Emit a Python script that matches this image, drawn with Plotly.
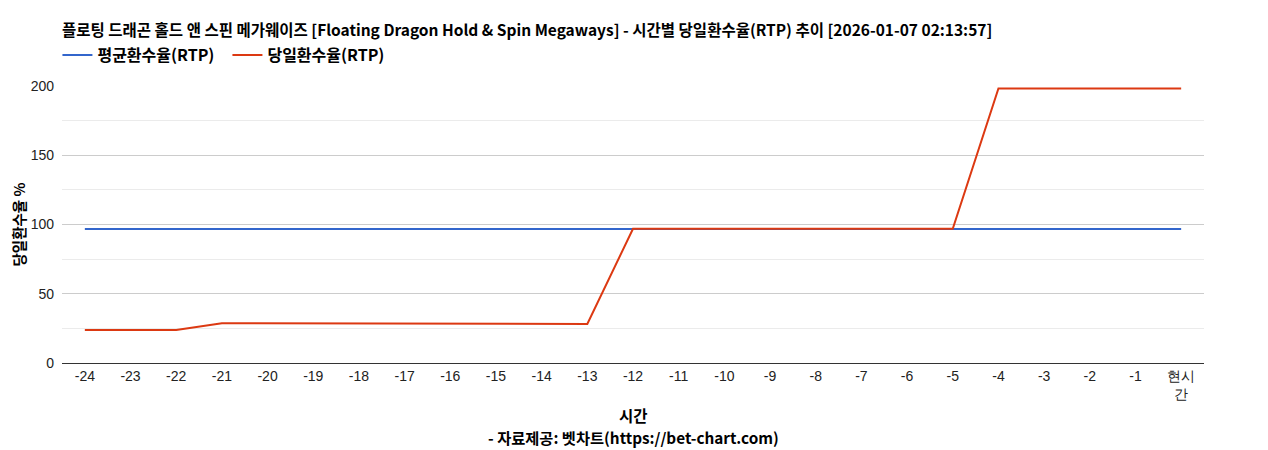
import plotly.graph_objects as go

hours = [str(h) for h in range(-24, 0)] + ["현시간"]
tick_text = [str(h) for h in range(-24, 0)] + ["현시<br>간"]

avg_rtp = [96.7] * 25
daily_rtp = [23.8, 23.8, 23.8, 28.7, 28.7, 28.7, 28.7, 28.7, 28.2, 28.2, 28.2, 28.2,
             96.9, 96.9, 96.9, 96.9, 96.9, 96.9, 96.9, 96.9,
             198.2, 198.2, 198.2, 198.2, 198.2]

title_text = ("플로팅 드래곤 홀드 앤 스핀 메가웨이즈 [Floating Dragon Hold & Spin Megaways]"
              " - 시간별 당일환수율(RTP) 추이 [2026-01-07 02:13:57]")

kr_font = "Noto Sans CJK KR"
tick_font = "Liberation Sans"

fig = go.Figure()
fig.add_trace(go.Scatter(x=hours, y=avg_rtp, mode="lines", name="<b>평균환수율(RTP)</b>",
                         line=dict(color="#3366cc", width=2)))
fig.add_trace(go.Scatter(x=hours, y=daily_rtp, mode="lines", name="<b>당일환수율(RTP)</b>",
                         line=dict(color="#dc3912", width=2)))

# page has an 8px body margin, so the figure is a bit smaller than the window
fig.update_layout(
    width=1260, height=442,
    margin=dict(l=54, r=64, t=78, b=87),
    paper_bgcolor="white", plot_bgcolor="white",
    title=dict(text="<b>" + title_text + "</b>", x=0, xref="paper", xanchor="left",
               y=0.95, yref="container", yanchor="middle",
               font=dict(family=kr_font, size=15.5, color="#000")),
    legend=dict(orientation="h", x=-0.004, xanchor="left", y=1.112, yanchor="middle",
                font=dict(family=kr_font, size=16, color="#000"),
                itemwidth=30, entrywidth=125, traceorder="normal"),
    showlegend=True,
    xaxis=dict(type="category", tickmode="array", tickvals=hours, ticktext=tick_text,
               range=[-0.5, 24.5], showgrid=False, showline=True, linecolor="#333",
               linewidth=1, ticks="", tickfont=dict(family=tick_font, size=14, color="#222")),
    yaxis=dict(range=[0, 200], tickvals=[0, 50, 100, 150, 200], showgrid=True,
               gridcolor="#cccccc", gridwidth=1, zeroline=False, ticks="",
               ticklabelstandoff=7,
               tickfont=dict(family=tick_font, size=14, color="#222"),
               minor=dict(tickvals=[25, 75, 125, 175], showgrid=True, gridcolor="#ebebeb")),
)

fig.add_annotation(text="<b>당일환수율 %</b>", xref="paper", yref="paper", x=0, y=0.5,
                   xanchor="center", yanchor="middle", xshift=-44, textangle=-90,
                   showarrow=False, font=dict(family=kr_font, size=14.5, color="#000"))
fig.add_annotation(text="<b>시간</b>", xref="paper", yref="paper", x=0.5, y=0,
                   xanchor="center", yanchor="middle", yshift=-52,
                   showarrow=False, font=dict(family=kr_font, size=15.5, color="#000"))
fig.add_annotation(text="<b>- 자료제공: 벳차트(https://bet-chart.com)</b>", xref="paper", yref="paper",
                   x=0.5, y=0, xanchor="center", yanchor="middle", yshift=-74, showarrow=False,
                   font=dict(family=kr_font, size=15.3, color="#000"))

fig.write_html("out.html")
